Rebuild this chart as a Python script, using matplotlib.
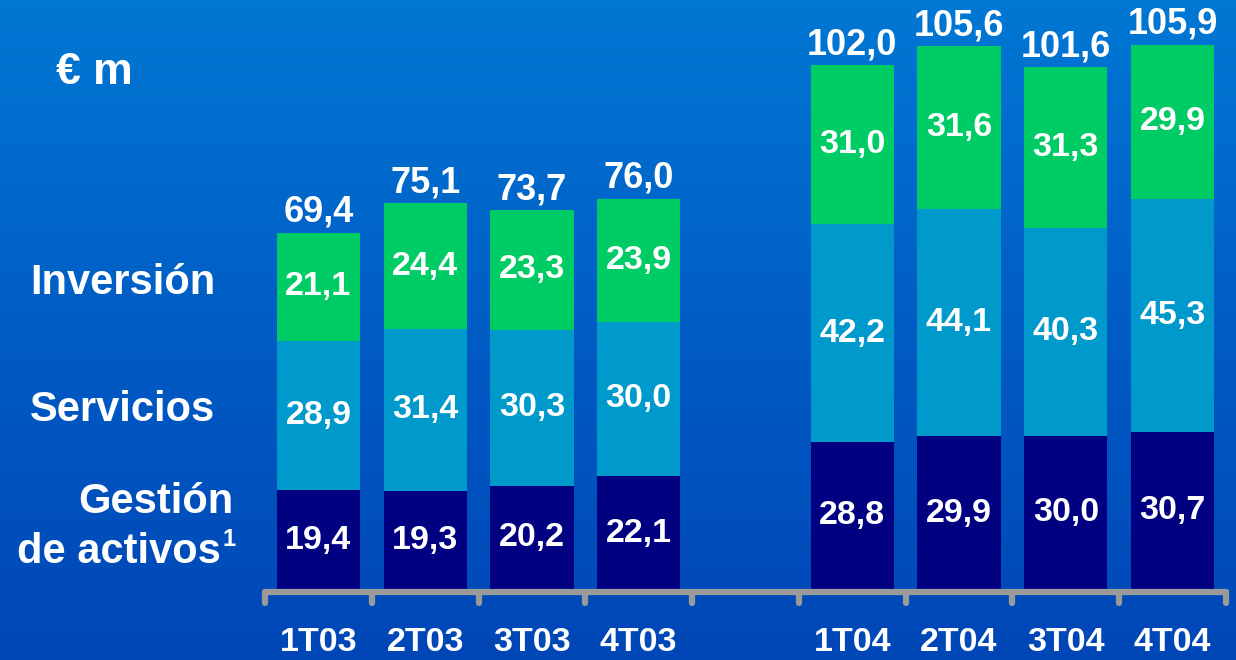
import numpy as np
import matplotlib
matplotlib.use('Agg')
import matplotlib.pyplot as plt
from matplotlib.colors import LinearSegmentedColormap

plt.rcParams['font.family'] = ['Liberation Sans', 'DejaVu Sans']
plt.rcParams['font.weight'] = 'bold'

# Quarterly revenue by business line (EUR millions)
quarters = ['1T03', '2T03', '3T03', '4T03', '1T04', '2T04', '3T04', '4T04']
gestion = [19.4, 19.3, 20.2, 22.1, 28.8, 29.9, 30.0, 30.7]
servicios = [28.9, 31.4, 30.3, 30.0, 42.2, 44.1, 40.3, 45.3]
inversion = [21.1, 24.4, 23.3, 23.9, 31.0, 31.6, 31.3, 29.9]
totals = [69.4, 75.1, 73.7, 76.0, 102.0, 105.6, 101.6, 105.9]

# one empty slot between the two years
positions = [0, 1, 2, 3, 5, 6, 7, 8]

C_GESTION = '#000080'
C_SERVICIOS = '#0099CC'
C_INVERSION = '#00CC66'
C_AXIS = '#9A9A9A'

W, H = 1236, 660
fig = plt.figure(figsize=(W / 100, H / 100), dpi=100)

# background: vertical blue gradient
bg = fig.add_axes([0, 0, 1, 1], zorder=0)
bg_cmap = LinearSegmentedColormap.from_list('bg', ['#0046B6', '#005CC4', '#0078D4'])
grad = np.linspace(0, 1, 256).reshape(-1, 1)
bg.imshow(grad, aspect='auto', cmap=bg_cmap, origin='lower', extent=[0, 1, 0, 1])
bg.axis('off')

# bar area: bottom of bars at 590 px, 5.15 px per unit
ax = fig.add_axes([265 / W, 70 / H, 961 / W, 590 / H], zorder=1)
ax.patch.set_alpha(0)
ax.set_xlim(-0.5, 8.5)
ax.set_ylim(0, 590 / 5.15)
ax.axis('off')


def fmt(v):
    return f'{v:.1f}'.replace('.', ',')


bw = 0.78
g = np.array(gestion)
s = np.array(servicios)
inv = np.array(inversion)
ax.bar(positions, g, width=bw, color=C_GESTION, zorder=2)
ax.bar(positions, s, width=bw, bottom=g, color=C_SERVICIOS, zorder=2)
ax.bar(positions, inv, width=bw, bottom=g + s, color=C_INVERSION, zorder=2)

lbl = dict(color='white', fontsize=24.5, fontweight='bold', ha='center', va='center', zorder=3)
for x, a, b, c, t in zip(positions, g, s, inv, totals):
    ax.text(x, a / 2, fmt(a), **lbl)
    ax.text(x, a + b / 2, fmt(b), **lbl)
    ax.text(x, a + b + c / 2, fmt(c), **lbl)
    ax.annotate(fmt(t), (x, a + b + c), xytext=(0, 14.5),
                textcoords='offset points', color='white', fontsize=26,
                fontweight='bold', ha='center', va='center', zorder=3)

# grey baseline with downward ticks at slot edges
y_line = -0.4
ax.plot([-0.5, 8.5], [y_line, y_line], color=C_AXIS, lw=4.5,
        solid_capstyle='round', clip_on=False, zorder=2)
for e in np.arange(-0.5, 9.0, 1.0):
    ax.plot([e, e], [y_line, y_line - 2.2], color=C_AXIS, lw=4.5,
            solid_capstyle='round', clip_on=False, zorder=2)

for x, q in zip(positions, quarters):
    ax.text(x, -10.1, q, color='white', fontsize=24.5, fontweight='bold',
            ha='center', va='center', clip_on=False)

# unit and series labels on the left
side = dict(color='white', fontsize=30, fontweight='bold', va='center')
fig.text(56 / W, 1 - 73 / H, '€ m', color='white', fontsize=32, fontweight='bold',
         ha='left', va='center')
fig.text(30 / W, 1 - 283 / H, 'Inversión', ha='left', **side)
fig.text(30 / W, 1 - 410 / H, 'Servicios', ha='left', **side)
fig.text(233 / W, 1 - 502 / H, 'Gestión', ha='right', **side)
fig.text(221 / W, 1 - 552 / H, 'de activos', ha='right', **side)
fig.text(222 / W, 1 - 540 / H, '1', color='white', fontsize=17, fontweight='bold',
         ha='left', va='center')

fig.savefig('out.png', dpi=100)
